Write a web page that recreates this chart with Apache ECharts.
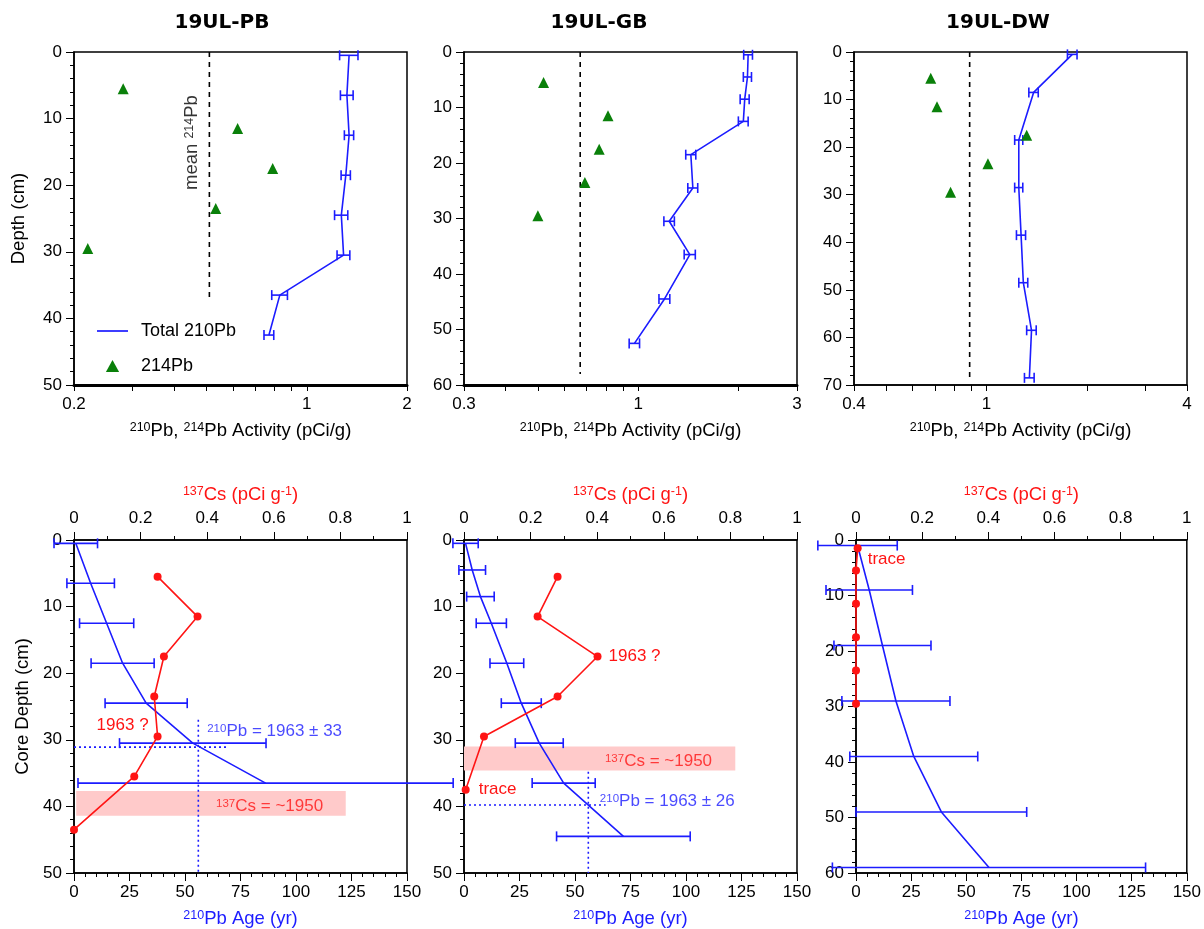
<!DOCTYPE html>
<html>
<head>
<meta charset="utf-8">
<title>210Pb and 137Cs profiles</title>
<script src="https://cdn.jsdelivr.net/npm/echarts@6/dist/echarts.min.js"></script>
<style>
  html, body { margin: 0; padding: 0; background: #fff; }
  #chart { width: 1204px; height: 929px; }
</style>
</head>
<body>
<div id="chart"></div>
<script>
// ---------- 19UL-PB ----------
const pbDepth = [0.5, 6.5, 12.5, 18.5, 24.5, 30.5, 36.5, 42.5];
const pbTotal210 = [1.34, 1.32, 1.34, 1.31, 1.27, 1.29, 0.83, 0.77];
const pbTotal210Err = [0.085, 0.058, 0.043, 0.042, 0.058, 0.057, 0.045, 0.026];
const pb214Depth = [5.5, 11.5, 17.5, 23.5, 29.5];
const pb214 = [0.281, 0.62, 0.79, 0.533, 0.22];
const pbMean214 = 0.51;
const pbAgeDepth = [0.5, 6.5, 12.5, 18.5, 24.5, 30.5, 36.5];
const pbAge = [0.8, 7.5, 14.7, 21.9, 32.5, 53.5, 86.3];
const pbAgeErr = [9.8, 10.7, 12.2, 14.2, 18.5, 33, 84.5];
const pbCsDepth = [5.5, 11.5, 17.5, 23.5, 29.5, 35.5, 43.5];
const pbCs = [0.251, 0.371, 0.270, 0.241, 0.251, 0.181, 0];

// ---------- 19UL-GB ----------
const gbDepth = [0.5, 4.5, 8.5, 12.5, 18.5, 24.5, 30.5, 36.5, 44.5, 52.5];
const gbTotal210 = [2.14, 2.13, 2.09, 2.07, 1.44, 1.46, 1.24, 1.43, 1.20, 0.975];
const gbTotal210Err = [0.065, 0.06, 0.065, 0.07, 0.05, 0.05, 0.045, 0.055, 0.045, 0.035];
const gb214Depth = [5.5, 11.5, 17.5, 23.5, 29.5];
const gb214 = [0.52, 0.812, 0.764, 0.692, 0.50];
const gbMean214 = 0.67;
const gbAgeDepth = [0.5, 4.5, 8.5, 12.5, 18.5, 24.5, 30.5, 36.5, 44.5];
const gbAge = [0.7, 3.7, 7.4, 12.3, 19.3, 25.8, 33.9, 44.9, 71.8];
const gbAgeErr = [5.7, 6.0, 6.2, 6.8, 7.6, 9.0, 10.8, 14.2, 30.1];
const gbCsDepth = [5.5, 11.5, 17.5, 23.5, 29.5, 37.5];
const gbCs = [0.281, 0.221, 0.401, 0.281, 0.060, 0.005];

// ---------- 19UL-DW ----------
const dwDepth = [0.5, 8.5, 18.5, 28.5, 38.5, 48.5, 58.5, 68.5];
const dwTotal210 = [1.81, 1.385, 1.25, 1.25, 1.27, 1.29, 1.365, 1.345];
const dwTotal210Err = [0.06, 0.045, 0.035, 0.035, 0.04, 0.04, 0.045, 0.045];
const dw214Depth = [5.5, 11.5, 17.5, 23.5, 29.5];
const dw214 = [0.68, 0.71, 1.32, 1.01, 0.78];
const dwMean214 = 0.89;
const dwAgeDepth = [1, 9, 19, 29, 39, 49, 59];
const dwAge = [0.7, 6.0, 12.0, 18.1, 26.2, 38.7, 60.3];
const dwAgeErr = [18, 19.6, 22, 24.5, 29, 38.7, 71];
const dwCsDepth = [1.5, 5.5, 11.5, 17.5, 23.5, 29.5];
const dwCs = [0.005, 0, 0, 0, 0, 0];

// 210Pb date of 1963 (age in years at depth) and the ~1950 137Cs onset band
const pb1963 = { age: 56, depth: 31.1 };
const gb1963 = { age: 56, depth: 39.8 };
const pbCsBand = [1, 122.4, 37.7, 41.4];   // age from, age to, depth from, depth to
const gbCsBand = [0, 122.2, 31.0, 34.6];

// axis ticks and tick labels
const pbActTicks = [0.2, 0.3, 0.4, 0.5, 0.6, 0.7, 0.8, 0.9, 1, 2];
const pbActLabels = [0.2, 1, 2];
const gbActTicks = [0.3, 0.4, 0.5, 0.6, 0.7, 0.8, 0.9, 1, 2, 3];
const gbActLabels = [0.3, 1, 3];
const dwActTicks = [0.4, 0.5, 0.6, 0.7, 0.8, 0.9, 1, 2, 3, 4];
const dwActLabels = [0.4, 1, 4];

const FONT = '"Liberation Sans", Arial, Helvetica, sans-serif';
const BLUE = '#1c1cff';
const RED = '#ff1414';
const GREEN = '#0a800a';
const PINK = '#ffcaca';
const BLACK = '#000';

function rich(color, supSize) {
  return { sup: { fontSize: supSize, color: color, fontFamily: FONT, verticalAlign: 'top' } };
}
function nameStyle(color) {
  return { fontSize: 18.5, color: color, fontFamily: FONT, rich: rich(color, 12.5) };
}

// ---------- axes ----------
function activityAxis(grid, min, max, ticks, labels, thick) {
  return {
    type: 'log', logBase: 10, gridIndex: grid, min: min, max: max, position: 'bottom',
    axisLine: { show: true, onZero: false, lineStyle: { color: BLACK, width: thick ? 3 : 1.5 } },
    axisTick: { show: true, customValues: ticks, length: 6, lineStyle: { color: BLACK, width: 1 } },
    axisLabel: { show: true, customValues: labels, fontSize: 17, color: BLACK, margin: 11, fontFamily: FONT,
      formatter: v => String(+Number(v).toPrecision(3)) },
    splitLine: { show: false }, minorTick: { show: false }, minorSplitLine: { show: false },
    name: '{sup|210}Pb, {sup|214}Pb Activity (pCi/g)', nameLocation: 'middle', nameGap: 36,
    nameTextStyle: nameStyle(BLACK)
  };
}
function ageAxis(grid) {
  return {
    type: 'value', gridIndex: grid, position: 'bottom', min: 0, max: 150, interval: 25,
    axisLine: { show: true, onZero: false, lineStyle: { color: BLACK, width: 1.5 } },
    axisTick: { show: true, length: 8, lineStyle: { color: BLACK, width: 1 } },
    minorTick: { show: true, splitNumber: 5, length: 4, lineStyle: { color: BLACK, width: 1 } },
    axisLabel: { fontSize: 17, color: BLACK, margin: 11, fontFamily: FONT },
    splitLine: { show: false }, minorSplitLine: { show: false },
    name: '{sup|210}Pb Age (yr)', nameLocation: 'middle', nameGap: 36,
    nameTextStyle: nameStyle(BLUE)
  };
}
function csAxis(grid) {
  return {
    type: 'value', gridIndex: grid, position: 'top', min: 0, max: 1, interval: 0.2,
    axisLine: { show: true, onZero: false, lineStyle: { color: BLACK, width: 1.5 } },
    axisTick: { show: true, length: 8, lineStyle: { color: BLACK, width: 1 } },
    minorTick: { show: true, splitNumber: 2, length: 4, lineStyle: { color: BLACK, width: 1 } },
    axisLabel: { fontSize: 17, color: BLACK, margin: 13, fontFamily: FONT },
    splitLine: { show: false }, minorSplitLine: { show: false },
    name: '{sup|137}Cs (pCi g{sup|-1})', nameLocation: 'middle', nameGap: 36,
    nameTextStyle: nameStyle(RED)
  };
}
function depthAxis(grid, max, name, gap) {
  return {
    type: 'value', gridIndex: grid, inverse: true, min: 0, max: max, interval: 10,
    axisLine: { show: true, onZero: false, lineStyle: { color: BLACK, width: 1.5 } },
    axisTick: { show: true, length: 8, lineStyle: { color: BLACK, width: 1 } },
    minorTick: { show: true, splitNumber: 5, length: 4, lineStyle: { color: BLACK, width: 1 } },
    axisLabel: { fontSize: 17, color: BLACK, margin: 12, fontFamily: FONT },
    splitLine: { show: false }, minorSplitLine: { show: false },
    name: name, nameLocation: 'middle', nameGap: gap,
    nameTextStyle: nameStyle(BLACK)
  };
}

// ---------- series builders ----------
function pairs(xs, ys) { return xs.map((x, i) => [x, ys[i]]); }

function errorBars(name, xi, yi, centers, errs, depths, cap, color) {
  return {
    type: 'custom', name: name, xAxisIndex: xi, yAxisIndex: yi, clip: false, z: 3, silent: true,
    data: depths.map((d, i) => [centers[i] - errs[i], centers[i] + errs[i], d]),
    encode: { x: [0, 1], y: 2 },
    renderItem: function (params, api) {
      const y = api.value(2);
      const a = api.coord([api.value(0), y]);
      const b = api.coord([api.value(1), y]);
      const h = cap / 2;
      const st = { stroke: color, lineWidth: 1.6 };
      return {
        type: 'group', children: [
          { type: 'line', shape: { x1: a[0], y1: a[1], x2: b[0], y2: b[1] }, style: st },
          { type: 'line', shape: { x1: a[0], y1: a[1] - h, x2: a[0], y2: a[1] + h }, style: st },
          { type: 'line', shape: { x1: b[0], y1: b[1] - h, x2: b[0], y2: b[1] + h }, style: st }
        ]
      };
    }
  };
}
function blueLine(name, xi, yi, xs, depths) {
  return {
    type: 'line', name: name, xAxisIndex: xi, yAxisIndex: yi, data: pairs(xs, depths),
    symbol: 'none', lineStyle: { color: BLUE, width: 1.6 }, itemStyle: { color: BLUE }, z: 3, silent: true
  };
}
function triangles(xi, yi, vals, depths) {
  return {
    type: 'scatter', name: '214Pb', xAxisIndex: xi, yAxisIndex: yi, data: pairs(vals, depths),
    symbol: 'triangle', symbolSize: 11, itemStyle: { color: GREEN, opacity: 1 }, z: 4, silent: true
  };
}
function meanLine(xi, yi, mean, depthTo) {
  return {
    type: 'line', name: 'mean 214Pb', xAxisIndex: xi, yAxisIndex: yi, data: [[mean, 0], [mean, depthTo]],
    symbol: 'none', lineStyle: { color: BLACK, width: 1.6, type: [5, 5] }, z: 2, silent: true
  };
}
function dotted(xi, yi, pts) {
  return {
    type: 'line', xAxisIndex: xi, yAxisIndex: yi, data: pts, symbol: 'none',
    lineStyle: { color: BLUE, width: 1.6, type: [2, 3] }, z: 2, silent: true
  };
}
function band(xi, yi, b) {
  return {
    type: 'custom', xAxisIndex: xi, yAxisIndex: yi, z: 1, silent: true,
    data: [b], encode: { x: [0, 1], y: [2, 3] },
    renderItem: function (params, api) {
      const p = api.coord([api.value(0), api.value(2)]);
      const q = api.coord([api.value(1), api.value(3)]);
      return { type: 'rect', shape: { x: p[0], y: p[1], width: q[0] - p[0], height: q[1] - p[1] }, style: { fill: PINK } };
    }
  };
}
function csLine(xi, yi, cs, depths, notes) {
  return {
    type: 'line', name: '137Cs', xAxisIndex: xi, yAxisIndex: yi,
    data: cs.map((v, i) => {
      const item = { value: [v, depths[i]] };
      const n = notes[i];
      if (n) {
        item.label = { show: true, formatter: n.text, position: n.position, distance: n.distance,
          offset: n.offset || [0, 0], color: RED, fontSize: 17, fontFamily: FONT };
      }
      return item;
    }),
    symbol: 'circle', symbolSize: 8, showAllSymbol: true,
    lineStyle: { color: RED, width: 1.6 }, itemStyle: { color: RED, opacity: 1 }, z: 4, silent: true
  };
}
function notes(xi, yi, list) {
  return {
    type: 'scatter', xAxisIndex: xi, yAxisIndex: yi, symbolSize: 0, z: 6, silent: true,
    itemStyle: { color: 'rgba(0,0,0,0)' },
    data: list.map(n => ({
      value: [n.x, n.y],
      label: { show: true, formatter: n.text, position: n.position || 'right', distance: 0,
        rotate: n.rotate || 0, color: n.color, fontSize: n.size || 17, fontFamily: FONT,
        rich: rich(n.color, n.sup || 11.5) }
    }))
  };
}

const series = [
  // ---- top row: activity profiles ----
  blueLine('Total 210Pb', 0, 0, pbTotal210, pbDepth),
  errorBars('Total 210Pb error', 0, 0, pbTotal210, pbTotal210Err, pbDepth, 10, BLUE),
  triangles(0, 0, pb214, pb214Depth),
  meanLine(0, 0, pbMean214, 37.5),
  notes(0, 0, [{ x: 0.453, y: 13.6, text: 'mean {sup|214}Pb', color: BLACK, position: 'inside', rotate: 90, size: 18.5, sup: 12.5 }]),

  blueLine('Total 210Pb', 1, 1, gbTotal210, gbDepth),
  errorBars('Total 210Pb error', 1, 1, gbTotal210, gbTotal210Err, gbDepth, 10, BLUE),
  triangles(1, 1, gb214, gb214Depth),
  meanLine(1, 1, gbMean214, 58),

  blueLine('Total 210Pb', 2, 2, dwTotal210, dwDepth),
  errorBars('Total 210Pb error', 2, 2, dwTotal210, dwTotal210Err, dwDepth, 10, BLUE),
  triangles(2, 2, dw214, dw214Depth),
  meanLine(2, 2, dwMean214, 68.5),

  // ---- bottom row: 210Pb age and 137Cs ----
  band(3, 3, pbCsBand),
  dotted(3, 3, [[pb1963.age, 27], [pb1963.age, 50]]),
  dotted(3, 3, [[0, pb1963.depth], [68.8, pb1963.depth]]),
  blueLine('210Pb age', 3, 3, pbAge, pbAgeDepth),
  errorBars('210Pb age error', 3, 3, pbAge, pbAgeErr, pbAgeDepth, 10, BLUE),
  csLine(6, 3, pbCs, pbCsDepth, { 4: { text: '1963 ?', position: 'left', distance: 5, offset: [0, -11] } }),
  notes(3, 3, [
    { x: 60, y: 28.8, text: '{sup|210}Pb = 1963 ± 33', color: BLUE },
    { x: 64, y: 40.0, text: '{sup|137}Cs = ~1950', color: RED }
  ]),

  band(4, 4, gbCsBand),
  dotted(4, 4, [[gb1963.age, 34.8], [gb1963.age, 50]]),
  dotted(4, 4, [[0, gb1963.depth], [63.8, gb1963.depth]]),
  blueLine('210Pb age', 4, 4, gbAge, gbAgeDepth),
  errorBars('210Pb age error', 4, 4, gbAge, gbAgeErr, gbAgeDepth, 10, BLUE),
  csLine(7, 4, gbCs, gbCsDepth, {
    2: { text: '1963 ?', position: 'right', distance: 7 },
    5: { text: 'trace', position: 'right', distance: 9 }
  }),
  notes(4, 4, [
    { x: 63.5, y: 33.2, text: '{sup|137}Cs = ~1950', color: RED },
    { x: 61.2, y: 39.2, text: '{sup|210}Pb = 1963 ± 26', color: BLUE }
  ]),

  blueLine('210Pb age', 5, 5, dwAge, dwAgeDepth),
  errorBars('210Pb age error', 5, 5, dwAge, dwAgeErr, dwAgeDepth, 10, BLUE),
  csLine(8, 5, dwCs, dwCsDepth, { 0: { text: 'trace', position: 'right', distance: 6, offset: [0, 11] } })
];

const gridBox = { show: true, borderColor: BLACK, borderWidth: 1.5, backgroundColor: 'transparent' };
const option = {
  animation: false,
  backgroundColor: '#fff',
  textStyle: { fontFamily: FONT },
  graphic: [
    { type: 'text', x: 222, y: 23, style: { text: '19UL-PB', font: 'bold 20px "DejaVu Sans"', fill: BLACK, align: 'center', verticalAlign: 'middle' } },
    { type: 'text', x: 599, y: 23, style: { text: '19UL-GB', font: 'bold 20px "DejaVu Sans"', fill: BLACK, align: 'center', verticalAlign: 'middle' } },
    { type: 'text', x: 998, y: 23, style: { text: '19UL-DW', font: 'bold 20px "DejaVu Sans"', fill: BLACK, align: 'center', verticalAlign: 'middle' } }
  ],
  legend: {
    orient: 'vertical', left: 97, top: 322, padding: 0, itemWidth: 31, itemHeight: 12, itemGap: 17,
    selectedMode: false, symbolKeepAspect: true,
    textStyle: { fontSize: 18, color: BLACK, fontFamily: FONT, padding: [0, 0, 0, 8] },
    data: [
      { name: 'Total 210Pb', icon: 'path://M0,0 L31,0 L31,1.7 L0,1.7 Z', itemStyle: { color: BLUE } },
      { name: '214Pb', icon: 'path://M5.5,0 L11,10 L0,10 Z', itemStyle: { color: GREEN } }
    ]
  },
  grid: [
    Object.assign({ left: 74, top: 52, width: 333, height: 333 }, gridBox),
    Object.assign({ left: 464, top: 52, width: 333, height: 333 }, gridBox),
    Object.assign({ left: 854, top: 52, width: 333, height: 333 }, gridBox),
    Object.assign({ left: 74, top: 540, width: 333, height: 333 }, gridBox),
    Object.assign({ left: 464, top: 540, width: 333, height: 333 }, gridBox),
    Object.assign({ left: 856, top: 540, width: 332, height: 333 }, gridBox)
  ],
  xAxis: [
    activityAxis(0, 0.2, 2, pbActTicks, pbActLabels, true),
    activityAxis(1, 0.3, 3, gbActTicks, gbActLabels, true),
    activityAxis(2, 0.4, 4, dwActTicks, dwActLabels, false),
    ageAxis(3), ageAxis(4), ageAxis(5),
    csAxis(3), csAxis(4), csAxis(5)
  ],
  yAxis: [
    depthAxis(0, 50, 'Depth (cm)', 46),
    depthAxis(1, 60, '', 40),
    depthAxis(2, 70, '', 40),
    depthAxis(3, 50, 'Core Depth (cm)', 42),
    depthAxis(4, 50, '', 40),
    depthAxis(5, 60, '', 40)
  ],
  series: series
};

const chart = echarts.init(document.getElementById('chart'), null, { renderer: 'canvas' });
chart.setOption(option);
</script>
</body>
</html>
